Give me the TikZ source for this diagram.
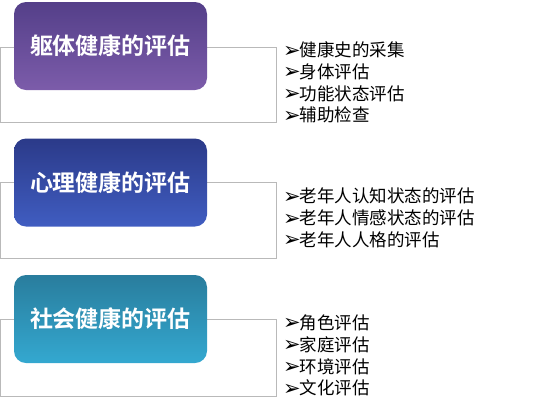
\documentclass[tikz,border=0pt]{standalone}
\usepackage{fontspec}
\newfontfamily\cjk[BoldFont={Noto Sans CJK SC Bold}]{Noto Sans CJK SC}
\newfontfamily\symfont{DejaVu Sans}
\usetikzlibrary{positioning}
\newcommand{\bulletarrow}{\raisebox{-0.5pt}{\symfont\fontsize{21pt}{21pt}\selectfont ➢}\hspace{-1pt}}
\tikzstyle{titleBox} = [
    rectangle,
    rounded corners=12pt,
    minimum width=193pt,
    minimum height=88pt,
    text=white,
    font=\cjk\bfseries\fontsize{23pt}{26pt}\selectfont
    ]
\tikzstyle{purpleBox} = [titleBox, top color={rgb,255:red,84;green,63;blue,137}, bottom color={rgb,255:red,124;green,92;blue,170}]
\tikzstyle{blueBox} = [titleBox, top color={rgb,255:red,43;green,58;blue,137}, bottom color={rgb,255:red,64;green,93;blue,193}]
\tikzstyle{tealBox} = [titleBox, top color={rgb,255:red,41;green,125;blue,157}, bottom color={rgb,255:red,52;green,168;blue,208}]
\tikzstyle{itemList} = [
    anchor=west,
    align=left,
    inner sep=0pt,
    font=\cjk\fontsize{17.5pt}{21.8pt}\selectfont
    ]
\tikzstyle{frameLine} = [draw={rgb,255:red,185;green,185;blue,185}, line width=1pt]

\begin{document}
\begin{tikzpicture}[x=1pt, y=-1pt]
      \useasboundingbox (0,0) rectangle (533,400);
      % frames behind the boxes
      \coordinate (bodyA) at (0.5,47);  \coordinate (bodyB) at (276,122);
      \coordinate (mindA) at (0.5,182); \coordinate (mindB) at (276,258);
      \coordinate (socA) at (0.5,319);  \coordinate (socB) at (276,396);
      \draw[frameLine] (bodyA) rectangle (bodyB);
      \draw[frameLine] (mindA) rectangle (mindB);
      \draw[frameLine] (socA) rectangle (socB);
      % title boxes
      \node[purpleBox] at (110.5,46) (body) {躯体健康的评估\hspace{12pt}};
      \node[blueBox] at (110.5,182.5) (mind) {心理健康的评估\hspace{12pt}};
      \node[tealBox] at (110.5,319) (social) {社会健康的评估\hspace{12pt}};
      % item lists
      \node[itemList] at (283,82.5) (bodyItems) {\bulletarrow 健康史的采集\\ \bulletarrow 身体评估\\ \bulletarrow 功能状态评估\\ \bulletarrow 辅助检查};
      \node[itemList] at (283,218) (mindItems) {\bulletarrow 老年人认知状态的评估\\ \bulletarrow 老年人情感状态的评估\\ \bulletarrow 老年人人格的评估};
      \node[itemList] at (283,355.5) (socialItems) {\bulletarrow 角色评估\\ \bulletarrow 家庭评估\\ \bulletarrow 环境评估\\ \bulletarrow 文化评估};
    \end{tikzpicture}
\end{document}
